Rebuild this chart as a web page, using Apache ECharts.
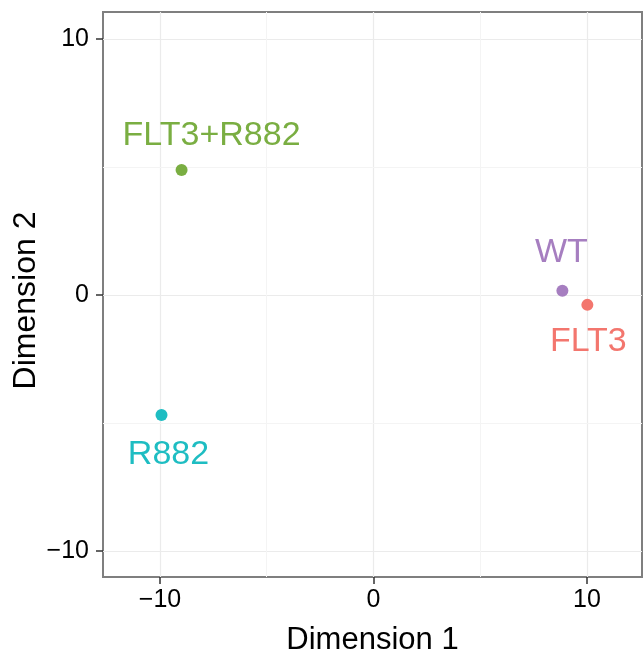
<!DOCTYPE html>
<html>
<head>
<meta charset="utf-8">
<script src="https://cdn.jsdelivr.net/npm/echarts@6/dist/echarts.min.js"></script>
<style>
  html, body { margin: 0; padding: 0; background: #fff; }
  #mdsChart { width: 644px; height: 651px; }
</style>
</head>
<body>
<div id="mdsChart"></div>
<script>
// sample groups and their MDS coordinates
const groups = ['FLT3', 'FLT3+R882', 'R882', 'WT'];
const dim1 = [10.02, -8.99, -9.93, 8.85];
const dim2 = [-0.39, 4.88, -4.69, 0.16];

// axis breaks
const majorBreaks = [-10, 0, 10];
const minorBreaks = [-5, 5];

// styling
const palette = ['#F3766E', '#7AAE42', '#1EBDC2', '#A67EC0'];
const labelOffsets = [[1, 37], [30, -34], [7, 40], [-1, -38]];

const fmt = v => (v < 0 ? '\u2212' + (-v) : String(v));
const FONT = 'Liberation Sans, Arial, sans-serif';

let chart = echarts.init(document.getElementById('mdsChart'));

let gridLines = [];
majorBreaks.forEach(b => {
  gridLines.push({ xAxis: b, lineStyle: { color: '#EBEBEB', width: 1.2 } });
  gridLines.push({ yAxis: b, lineStyle: { color: '#EBEBEB', width: 1.2 } });
});
minorBreaks.forEach(b => {
  gridLines.push({ xAxis: b, lineStyle: { color: '#F4F4F4', width: 1 } });
  gridLines.push({ yAxis: b, lineStyle: { color: '#F4F4F4', width: 1 } });
});

let series = [{
  // background grid lines
  type: 'line',
  data: [],
  silent: true,
  z: 1,
  markLine: {
    silent: true,
    symbol: 'none',
    label: { show: false },
    animation: false,
    lineStyle: { type: 'solid' },
    data: gridLines
  }
}];

groups.forEach((g, i) => {
  series.push({
    name: g,
    type: 'scatter',
    z: 5,
    symbolSize: 12,
    itemStyle: { color: palette[i], opacity: 1 },
    label: {
      show: true,
      formatter: g,
      position: 'inside',
      align: 'center',
      verticalAlign: 'middle',
      offset: labelOffsets[i],
      color: palette[i],
      fontSize: 34,
      fontFamily: FONT
    },
    data: [[dim1[i], dim2[i]]]
  });
});

let axisCommon = {
  type: 'value',
  nameLocation: 'middle',
  nameMoveOverlap: false,
  axisLine: { show: true, onZero: false, lineStyle: { color: '#7F7F7F', width: 2 } },
  splitLine: { show: false },
  axisTick: {
    show: true,
    inside: false,
    customValues: majorBreaks,
    length: 7,
    lineStyle: { color: '#333', width: 1.5 }
  }
};

let option = {
  animation: false,
  grid: {
    left: 103,
    right: 2,
    top: 12,
    bottom: 74,
    show: true,
    borderColor: '#7F7F7F',
    borderWidth: 2,
    outerBoundsMode: 'none',
    containLabel: false
  },
  xAxis: Object.assign({}, axisCommon, {
    min: -12.67,
    max: 12.58,
    name: 'Dimension 1',
    nameGap: 48,
    nameTextStyle: { fontSize: 31, color: '#000', fontFamily: FONT },
    axisLabel: {
      customValues: majorBreaks,
      formatter: fmt,
      margin: 11,
      fontSize: 25,
      color: '#000',
      fontFamily: FONT
    }
  }),
  yAxis: Object.assign({}, axisCommon, {
    min: -11.02,
    max: 11.05,
    name: 'Dimension 2',
    nameGap: 61,
    nameRotate: 90,
    nameTextStyle: { fontSize: 32, color: '#000', fontFamily: FONT, padding: [0, 12, 0, 0] },
    axisLabel: {
      customValues: majorBreaks,
      formatter: fmt,
      margin: 14,
      fontSize: 25,
      color: '#000',
      fontFamily: FONT
    }
  }),
  series: series
};

chart.setOption(option);
</script>
</body>
</html>
